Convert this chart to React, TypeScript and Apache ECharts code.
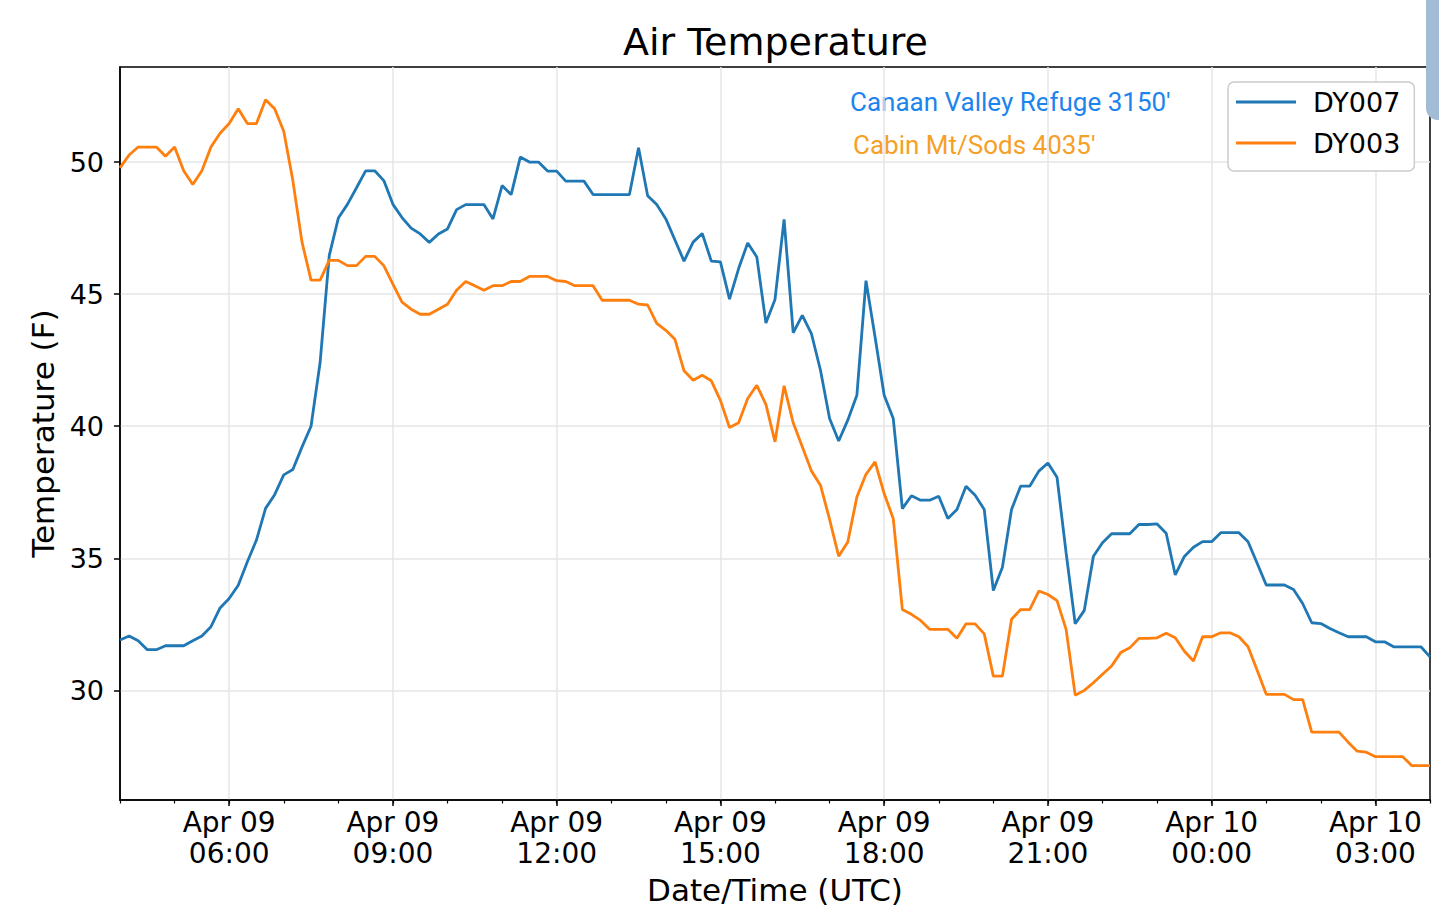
import { useEffect, useRef } from 'react'
import * as echarts from 'echarts'

// 10-minute observations, Apr 09 04:00 -> Apr 10 04:00 (UTC)
const times: string[] = []
for (let i = 0; i <= 144; i++) {
  const m = 4 * 60 + i * 10
  const day = 9 + Math.floor(m / 1440)
  const hh = Math.floor((m % 1440) / 60)
  const mm = m % 60
  times.push(
    `Apr ${String(day).padStart(2, '0')}\n${String(hh).padStart(2, '0')}:${String(mm).padStart(2, '0')}`
  )
}

// Canaan Valley Refuge 3150'
const dy007 = [
  31.91, 32.06, 31.88, 31.54, 31.54, 31.69, 31.69, 31.69, 31.88, 32.06,
  32.41, 33.12, 33.48, 33.98, 34.87, 35.69, 36.89, 37.41, 38.16, 38.36,
  39.21, 40.0, 42.42, 46.46, 47.88, 48.4, 49.03, 49.67, 49.67, 49.3,
  48.4, 47.9, 47.5, 47.28, 46.96, 47.28, 47.47, 48.2, 48.39, 48.39,
  48.39, 47.85, 49.11, 48.77, 50.19, 50.0, 50.0, 49.66, 49.66, 49.28,
  49.28, 49.28, 48.77, 48.77, 48.77, 48.77, 48.77, 50.54, 48.73, 48.39,
  47.85, 47.05, 46.25, 46.97, 47.3, 46.25, 46.22, 44.81, 45.97, 46.94,
  46.41, 43.91, 44.8, 47.83, 43.54, 44.2, 43.51, 42.12, 40.29, 39.44,
  40.23, 41.17, 45.51, 43.38, 41.17, 40.29, 36.88, 37.37, 37.2, 37.2,
  37.35, 36.51, 36.85, 37.73, 37.39, 36.85, 33.78, 34.66, 36.85, 37.73,
  37.73, 38.3, 38.61, 38.07, 35.21, 32.52, 33.03, 35.08, 35.59, 35.93,
  35.93, 35.93, 36.28, 36.28, 36.3, 35.95, 34.37, 35.07, 35.42, 35.63,
  35.63, 35.97, 35.97, 35.97, 35.63, 34.81, 33.99, 33.99, 33.99, 33.82,
  33.29, 32.56, 32.53, 32.34, 32.18, 32.03, 32.03, 32.03, 31.84, 31.84,
  31.65, 31.65, 31.65, 31.65, 31.27,
]

// Cabin Mt/Sods 4035'
const dy003 = [
  49.78, 50.27, 50.57, 50.57, 50.57, 50.22, 50.57, 49.67, 49.15, 49.67,
  50.57, 51.09, 51.46, 52.02, 51.46, 51.46, 52.36, 52.02, 51.17, 49.3,
  46.98, 45.53, 45.53, 46.28, 46.28, 46.08, 46.08, 46.43, 46.43, 46.08,
  45.38, 44.7, 44.43, 44.24, 44.24, 44.43, 44.62, 45.15, 45.48, 45.32,
  45.15, 45.32, 45.32, 45.48, 45.48, 45.67, 45.67, 45.67, 45.51, 45.48,
  45.32, 45.32, 45.32, 44.77, 44.77, 44.77, 44.77, 44.62, 44.59, 43.89,
  43.63, 43.29, 42.1, 41.74, 41.93, 41.72, 40.98, 39.95, 40.13, 41.05,
  41.55, 40.83, 39.41, 41.53, 40.13, 39.22, 38.31, 37.77, 36.47, 35.08,
  35.62, 37.32, 38.18, 38.65, 37.45, 36.5, 33.06, 32.88, 32.65, 32.31,
  32.31, 32.31, 31.97, 32.52, 32.52, 32.14, 30.54, 30.54, 32.69, 33.06,
  33.06, 33.76, 33.63, 33.4, 32.31, 29.82, 30.0, 30.29, 30.61, 30.92,
  31.43, 31.61, 31.97, 31.97, 31.99, 32.16, 31.99, 31.48, 31.11, 32.03,
  32.03, 32.18, 32.18, 32.03, 31.65, 30.76, 29.85, 29.85, 29.85, 29.65,
  29.65, 28.42, 28.42, 28.42, 28.42, 28.04, 27.7, 27.66, 27.49, 27.49,
  27.49, 27.49, 27.15, 27.15, 27.15,
]

const yTicks = [30, 35, 40, 45, 50]

const FONT = 'DejaVu Sans'
const BLUE = '#1f77b4'
const ORANGE = '#ff7f0e'

// major ticks every 3 h (06:00, 09:00, ...), minor every hour
const isMajor = (i: number) => i % 18 === 12
const isMinor = (i: number) => i % 6 === 0

export default function App() {
  const chartRef = useRef<HTMLDivElement>(null)

  useEffect(() => {
    if (!chartRef.current) return
    const chart = echarts.init(chartRef.current, undefined, { renderer: 'svg' })

    const option: echarts.EChartsOption = {
      animation: false,
      backgroundColor: '#fff',
      title: {
        text: 'Air Temperature',
        left: 623,
        top: 23,
        padding: 0,
        textStyle: { fontFamily: FONT, fontSize: 38, fontWeight: 'normal', color: '#000', lineHeight: 38 },
      },
      grid: {
        left: 120,
        right: 9,
        top: 67,
        bottom: 119,
        show: true,
        borderColor: '#000',
        borderWidth: 1.5,
      },
      legend: {
        data: [
          { name: 'DY007', icon: 'rect' },
          { name: 'DY003', icon: 'rect' },
        ],
        orient: 'vertical',
        left: 1228,
        top: 82,
        padding: [5, 14, 13, 8],
        itemWidth: 60,
        itemHeight: 3,
        itemGap: 11,
        backgroundColor: '#fff',
        borderColor: '#cccccc',
        borderWidth: 1.5,
        borderRadius: 6,
        textStyle: { fontFamily: FONT, fontSize: 27, color: '#000', lineHeight: 30, padding: [0, 0, 0, 12] },
      },
      xAxis: [
        {
          type: 'category',
          data: times,
          boundaryGap: false,
          axisLine: { lineStyle: { color: '#000', width: 1.5 } },
          axisTick: { interval: isMajor, length: 6, lineStyle: { color: '#000', width: 1.5 } },
          axisLabel: {
            interval: isMajor,
            fontFamily: FONT,
            fontSize: 28,
            lineHeight: 31,
            color: '#000',
            margin: 7,
          },
          splitLine: { show: true, interval: isMajor, lineStyle: { color: '#e6e6e6', width: 1.5 } },
          name: 'Date/Time (UTC)',
          nameLocation: 'middle',
          nameGap: 74,
          nameTextStyle: { fontFamily: FONT, fontSize: 31, color: '#000', lineHeight: 31 },
        },
        {
          type: 'category',
          data: times,
          boundaryGap: false,
          position: 'bottom',
          axisLine: { show: false },
          axisLabel: { show: false },
          axisTick: { interval: isMinor, length: 3.5, lineStyle: { color: '#000', width: 1.2 } },
          splitLine: { show: false },
        },
      ],
      yAxis: {
        type: 'value',
        min: 25.85,
        max: 53.6,
        axisLine: { show: true, lineStyle: { color: '#000', width: 1.5 } },
        axisTick: { show: true, customValues: yTicks, length: 6, lineStyle: { color: '#000', width: 1.5 } },
        axisLabel: { customValues: yTicks, fontFamily: FONT, fontSize: 27, color: '#000', margin: 16 },
        splitLine: { show: true, lineStyle: { color: '#e6e6e6', width: 1.5 } },
        name: 'Temperature (F)',
        nameLocation: 'middle',
        nameGap: 60,
        nameTextStyle: { fontFamily: FONT, fontSize: 31, color: '#000', lineHeight: 31 },
      },
      series: [
        {
          name: 'DY007',
          type: 'line',
          data: dy007,
          symbol: 'none',
          lineStyle: { color: BLUE, width: 2.8 },
          itemStyle: { color: BLUE },
        },
        {
          name: 'DY003',
          type: 'line',
          data: dy003,
          symbol: 'none',
          lineStyle: { color: ORANGE, width: 2.8 },
          itemStyle: { color: ORANGE },
        },
      ],
      graphic: [
        {
          type: 'text',
          x: 850,
          y: 102,
          style: {
            text: "Canaan Valley Refuge 3150'",
            fill: '#1d84ee',
            fontFamily: 'Roboto',
            fontSize: 26,
            align: 'left',
            verticalAlign: 'middle',
          },
        },
        {
          type: 'text',
          x: 853,
          y: 145,
          style: {
            text: "Cabin Mt/Sods 4035'",
            fill: '#f5a026',
            fontFamily: 'Roboto',
            fontSize: 26,
            align: 'left',
            verticalAlign: 'middle',
          },
        },
        {
          type: 'rect',
          z: 100,
          shape: { x: 1426, y: -20, width: 40, height: 140, r: 12 },
          style: { fill: '#a2bcd5' },
        },
      ],
    }

    chart.setOption(option)

    return () => {
      chart.dispose()
    }
  }, [])

  return (
    <div
      ref={chartRef}
      style={{ position: 'absolute', left: 0, top: 0, width: 1439, height: 919 }}
    />
  )
}
